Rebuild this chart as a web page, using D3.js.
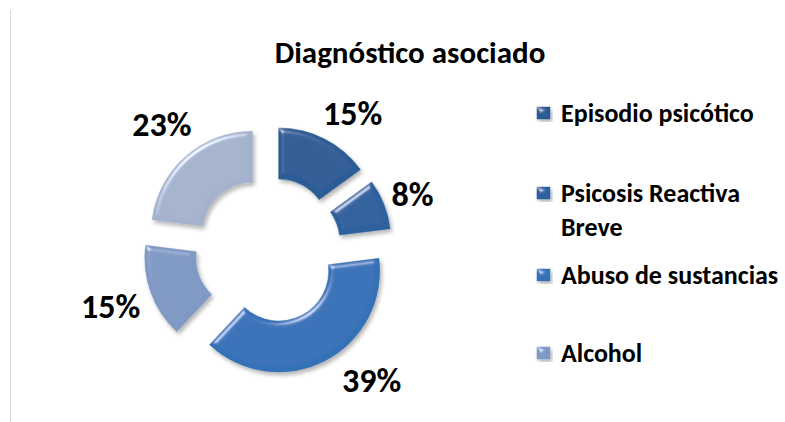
<!DOCTYPE html>
<html>
<head>
<meta charset="utf-8">
<script src="https://cdn.jsdelivr.net/npm/d3@7"></script>
<style>
  body { margin: 0; background: #fff; }
  svg { display: block; }
  text { font-family: Carlito, "Open Sans", sans-serif; font-weight: bold; fill: #000; }
</style>
</head>
<body>
<div id="chart"></div>
<script>
// data
var categories = ["Episodio psicótico", "Psicosis Reactiva Breve", "Abuso de sustancias", "Alcohol", ""];
var values = [15, 8, 39, 15, 23];
var colors = ["#2f63a3", "#3169ad", "#3b7bc8", "#8ca7d6", "#b3c3e0"];
var title = "Diagnóstico asociado";

var width = 785;
var height = 422;

var cx = 268, cy = 250;
var outerR = 101, innerR = 50;
var explode = 23.6;
var labelR = 162;
// labels were nudged by hand in the source
var labelNudge = [[11, 7], [-6, 4], [30, -14], [-5, 1], [1, -4]];

var svg = d3.select("#chart")
    .append("svg")
    .attr("width", width)
    .attr("height", height);

var defs = svg.append("defs");

// soft bevel + shadow, roughly like the office "soft round" look
var filter = defs.append("filter")
    .attr("id", "bevel")
    .attr("x", "-20%").attr("y", "-20%")
    .attr("width", "140%").attr("height", "140%");
filter.append("feGaussianBlur")
    .attr("in", "SourceAlpha").attr("stdDeviation", 2.5).attr("result", "blur");
var spec = filter.append("feSpecularLighting")
    .attr("in", "blur").attr("surfaceScale", 3)
    .attr("specularConstant", 0.7).attr("specularExponent", 40)
    .attr("lighting-color", "#ffffff").attr("result", "spec");
spec.append("feDistantLight").attr("azimuth", 235).attr("elevation", 40);
filter.append("feComposite")
    .attr("in", "spec").attr("in2", "SourceAlpha").attr("operator", "in").attr("result", "specIn");
filter.append("feComposite")
    .attr("in", "SourceGraphic").attr("in2", "specIn")
    .attr("operator", "arithmetic")
    .attr("k1", 0).attr("k2", 1).attr("k3", 0.8).attr("k4", 0)
    .attr("result", "lit");
filter.append("feOffset").attr("in", "SourceAlpha").attr("dx", 2).attr("dy", 3).attr("result", "off");
filter.append("feGaussianBlur").attr("in", "off").attr("stdDeviation", 2).attr("result", "offBlur");
filter.append("feComponentTransfer").attr("in", "offBlur").attr("result", "shadow")
    .append("feFuncA").attr("type", "linear").attr("slope", 0.3);
var merge = filter.append("feMerge");
merge.append("feMergeNode").attr("in", "shadow");
merge.append("feMergeNode").attr("in", "lit");

// gradients per slice
colors.forEach(function(c, i) {
    var g = defs.append("radialGradient")
        .attr("id", "grad" + i)
        .attr("gradientUnits", "userSpaceOnUse")
        .attr("cx", cx).attr("cy", cy).attr("r", outerR + explode);
    g.append("stop").attr("offset", "40%").attr("stop-color", d3.color(c).brighter(0.1));
    g.append("stop").attr("offset", "75%").attr("stop-color", c);
    g.append("stop").attr("offset", "100%").attr("stop-color", d3.color(c).darker(0.25));
});

// left frame line
svg.append("line")
    .attr("x1", 10.5).attr("x2", 10.5)
    .attr("y1", 10).attr("y2", height)
    .attr("stroke", "#d9d9d9")
    .attr("stroke-width", 1);

// title
svg.append("text")
    .attr("x", 410)
    .attr("y", 63)
    .attr("text-anchor", "middle")
    .style("font-size", "31px")
    .text(title);

var pie = d3.pie().sort(null).value(function(d) { return d; });
var arcs = pie(values);

var arc = d3.arc().innerRadius(innerR).outerRadius(outerR);
var labelArc = d3.arc().innerRadius(labelR).outerRadius(labelR);

var pieGroup = svg.append("g")
    .attr("transform", "translate(" + cx + "," + cy + ")");

pieGroup.selectAll("path")
    .data(arcs)
    .enter()
    .append("path")
    .attr("d", arc)
    .attr("transform", function(d) {
        var a = (d.startAngle + d.endAngle) / 2;
        return "translate(" + (Math.sin(a) * explode) + "," + (-Math.cos(a) * explode) + ")";
    })
    .attr("fill", function(d, i) { return "url(#grad" + i + ")"; })
    .attr("stroke", function(d, i) { return d3.color(colors[i]).darker(0.4); })
    .attr("stroke-width", 0.5)
    .attr("filter", "url(#bevel)");

pieGroup.selectAll("text.pct")
    .data(arcs)
    .enter()
    .append("text")
    .attr("class", "pct")
    .attr("transform", function(d, i) {
        var c = labelArc.centroid(d);
        return "translate(" + (c[0] + labelNudge[i][0]) + "," + (c[1] + labelNudge[i][1]) + ")";
    })
    .attr("text-anchor", "middle")
    .attr("dy", "0.35em")
    .style("font-size", "34px")
    .text(function(d) { return Math.round(d.value / d3.sum(values) * 100) + "%"; });

// legend: only the first four entries are visible in the source
var legendRows = [[113], [193, 227], [275], [353]];
var legend = svg.append("g");
legendRows.forEach(function(rows, i) {
    legend.append("rect")
        .attr("x", 537)
        .attr("y", rows[0] - 6)
        .attr("width", 13)
        .attr("height", 12)
        .attr("fill", "url(#grad" + i + ")")
        .attr("stroke", d3.color(colors[i]).darker(0.4))
        .attr("stroke-width", 0.5)
        .attr("filter", "url(#bevel)");
    var words = i === 1 ? ["Psicosis Reactiva", "Breve"] : [categories[i]];
    words.forEach(function(w, j) {
        legend.append("text")
            .attr("x", 561)
            .attr("y", rows[j])
            .attr("dy", "0.35em")
            .style("font-size", "26px")
            .text(w);
    });
});
</script>
</body>
</html>
